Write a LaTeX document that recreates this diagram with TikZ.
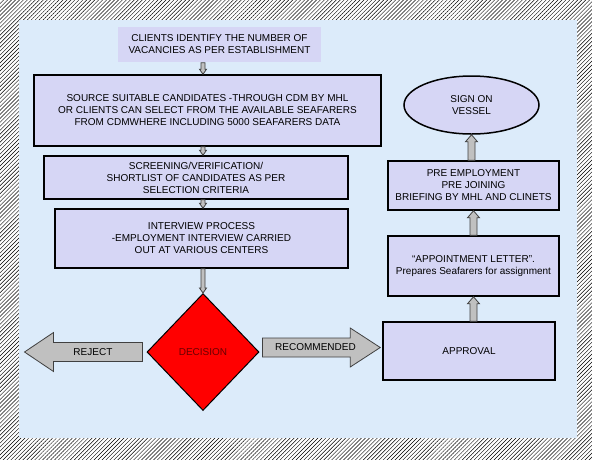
\documentclass[tikz,border=0pt]{standalone}
\usepackage{fontspec}
\setmainfont{Liberation Sans}
\usepackage{tikz}
\usetikzlibrary{positioning,calc,shapes.geometric,patterns.meta}
\definecolor{panelblue}{RGB}{220,235,250}
\definecolor{boxlav}{RGB}{214,214,245}
\definecolor{arrowgray}{RGB}{192,192,192}
\definecolor{decred}{RGB}{255,0,0}
\definecolor{dectext}{RGB}{105,0,0}

\begin{document}
\begin{tikzpicture}[
  x=1pt, y=-1pt,
  font=\fontsize{10}{12}\selectfont,
  stepbox/.style={draw=black, line width=1.5pt, fill=boxlav, align=center, inner sep=0pt},
  blockarrow/.style={fill=arrowgray, draw=black!75, line width=0.8pt, line join=miter},
]
  \useasboundingbox (0,0) rectangle (592,459);

  % Hatched frame
  \fill[white] (0,0) rectangle (592,459);
  \fill[pattern={Lines[angle=45,distance=2.8pt,line width=0.45pt]}] (0,0) rectangle (592,459);

  % Blue panel
  \fill[panelblue] (19,20) rectangle (577,438);

  % Left column
  \node[stepbox, draw=none, minimum width=203pt, minimum height=35pt] (clients) at (219.5,44.5)
    {CLIENTS IDENTIFY THE NUMBER OF\\VACANCIES AS PER ESTABLISHMENT};
  \node[stepbox, minimum width=347pt, minimum height=71pt] (source) at (207.5,110.5)
    {SOURCE SUITABLE CANDIDATES -THROUGH CDM BY MHL\\OR CLIENTS CAN SELECT FROM THE AVAILABLE SEAFARERS\\FROM CDMWHERE INCLUDING 5000 SEAFARERS DATA};
  \node[stepbox, minimum width=304pt, minimum height=43pt] (screen) at (196,177.5)
    {SCREENING/VERIFICATION/\\SHORTLIST OF CANDIDATES AS PER\\SELECTION CRITERIA};
  \node[stepbox, minimum width=293pt, minimum height=59pt] (interview) at (201.5,238.5)
    {INTERVIEW PROCESS\\-EMPLOYMENT INTERVIEW CARRIED\\OUT AT VARIOUS CENTERS};
  \node[diamond, draw=black, line width=1pt, fill=decred, text=dectext, inner sep=0pt,
    minimum width=112pt, minimum height=117pt] (decision) at (203,352) {DECISION};

  % Right column
  \node[stepbox, minimum width=172pt, minimum height=58pt] (approval) at (469,351) {APPROVAL};
  \node[stepbox, minimum width=171pt, minimum height=60pt] (appoint) at (473.5,266)
    {``APPOINTMENT LETTER''.\\Prepares Seafarers for assignment};
  \node[stepbox, minimum width=171pt, minimum height=49pt] (preemp) at (473.5,185.5)
    {PRE EMPLOYMENT\\PRE JOINING\\BRIEFING BY MHL AND CLINETS};
  \node[ellipse, draw=black, line width=1.5pt, fill=boxlav, align=center, inner sep=0pt,
    minimum width=135pt, minimum height=58pt] (signon) at (471.5,105) {SIGN ON\\VESSEL};

  % Free ends of the side arrows
  \coordinate (rejstart) at ($(decision.west)+(-4,0)$);
  \coordinate (rejend) at ($(decision.west)+(-122,0)$);
  \coordinate (recstart) at ($(decision.east)+(3,-4.5)$);
  \coordinate (recend) at ($(approval.west)+(-2,-3.5)$);

  % Block arrows: start/end/body half width/head half width/head length
  \foreach \s/\e/\bw/\hw/\hl in {
    clients.south -| decision.north/source.north -| decision.north/2/3.5/5,
    source.south -| decision.north/screen.north -| decision.north/2/3.5/5,
    screen.south -| decision.north/interview.north -| decision.north/2/3.5/5,
    interview.south -| decision.north/decision.north/2/3.5/5,
    approval.north -| appoint.south/appoint.south/3.5/6/7,
    appoint.north/preemp.south/3.5/6/7,
    preemp.north -| signon.south/signon.south/3.5/6/7,
    rejstart/rejend/9.5/19.5/29,
    recstart/recend/9.5/19.5/30} {
    \coordinate (s) at (\s);
    \coordinate (e) at (\e);
    \coordinate (h) at ($(e)!\hl pt!(s)$);
    \filldraw[blockarrow] ($(s)!\bw pt!90:(e)$) -- ($(h)!\bw pt!90:(e)$) -- ($(h)!\hw pt!90:(e)$)
      -- (e) -- ($(h)!\hw pt!-90:(e)$) -- ($(h)!\bw pt!-90:(e)$) -- ($(s)!\bw pt!-90:(e)$) -- cycle;
  }

  % Arrow labels
  \node (rejlbl) at ($(rejstart)!0.42!(rejend)$) {REJECT};
  \node (reclbl) at ($(recstart)!0.45!(recend)$) {RECOMMENDED};
\end{tikzpicture}
\end{document}
